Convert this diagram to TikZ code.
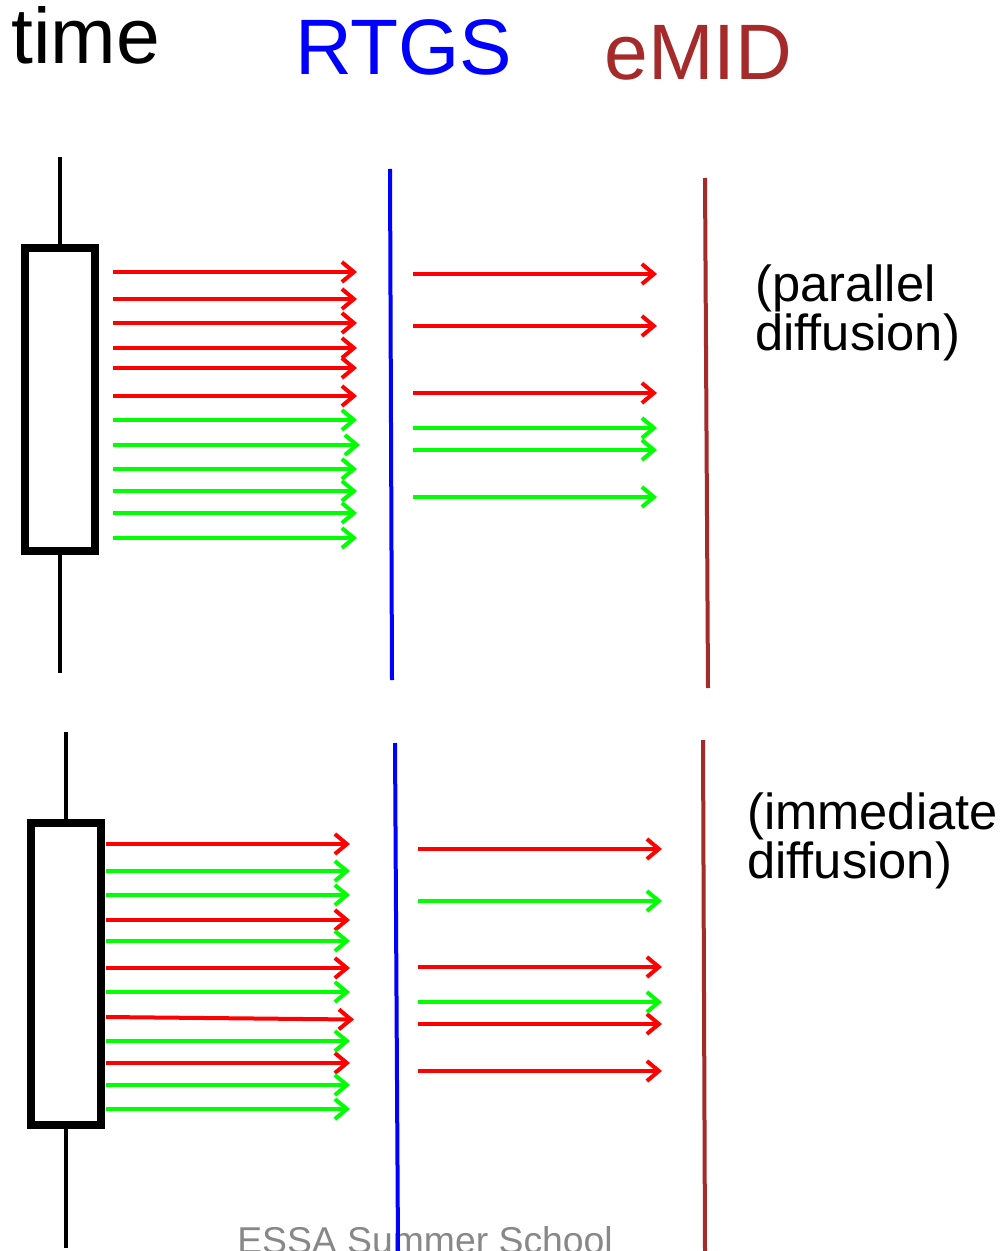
\documentclass[tikz,border=0pt]{standalone}
\usepackage{fontspec}
\setmainfont{Liberation Sans}
\usetikzlibrary{arrows.meta}
\definecolor{cred}{RGB}{255,0,0}
\definecolor{cgreen}{RGB}{0,255,0}
\definecolor{cblue}{RGB}{0,0,255}
\definecolor{cbrown}{RGB}{165,42,42}
\definecolor{cgray}{RGB}{136,136,136}
\tikzset{
  flow/.style={line width=3pt, -{Straight Barb[length=9pt,width=15pt]}},
  redflow/.style={flow, draw=cred},
  greenflow/.style={flow, draw=cgreen},
  stem/.style={line width=3pt, black},
  candle/.style={line width=6.3pt, draw=black, fill=white},
  rtgsline/.style={line width=3pt, draw=cblue},
  emidline/.style={line width=3pt, draw=cbrown},
  title/.style={anchor=base west, inner sep=0pt, font=\fontsize{59}{62}\selectfont},
  label/.style={anchor=base west, inner sep=0pt, align=left, font=\fontsize{38}{33.5}\selectfont},
}
\begin{document}
\begin{tikzpicture}[x=0.75pt,y=-0.75pt]
\useasboundingbox (0,0) rectangle (1000,1251);
\clip (0,0) rectangle (1000,1251);
\fill[white] (0,0) rectangle (1000,1251);

% footer (behind everything)
\node[anchor=base west, inner sep=0pt, text=cgray, font=\fontsize{28}{30}\selectfont] (footer) at (237,1253) {ESSA Summer School};

% titles
\node[title, text=black] (time) at (11,64) {time};
\node[title, text=cblue] (rtgs) at (295,75) {RTGS};
\node[title, text=cbrown] (emid) at (604,80) {eMID};

% labels (base = baseline of the last line)
\node[label] (par) at (755,350) {(parallel\\diffusion)};
\node[label] (imm) at (747,878) {(immediate\\diffusion)};

% ---------- top panel ----------
\coordinate (s1t) at (60,157);
\coordinate (s1b) at (60,673);
\draw[stem] (s1t) -- (s1b);
\draw[candle] (25,248) rectangle (95,551);

\draw[rtgsline] (390,169) -- (392,680);
\draw[emidline] (705,178) -- (708,688);

\foreach \y in {272,299,323,348,368,396}
  \draw[redflow] (113,\y) -- (357,\y);
\foreach \y in {420,469,491,513,538}
  \draw[greenflow] (113,\y) -- (357,\y);
\draw[greenflow] (113,445) -- (360,445);

\foreach \y in {274,326,393}
  \draw[redflow] (413,\y) -- (657,\y);
\foreach \y in {428,450,497}
  \draw[greenflow] (413,\y) -- (657,\y);

% ---------- bottom panel ----------
\coordinate (s2t) at (65.7,732);
\coordinate (s2b) at (65.7,1248);
\draw[stem] (s2t) -- (s2b);
\draw[candle] (31,823) rectangle (101,1125);

\draw[rtgsline] (395,743) -- (398,1251);
\draw[emidline] (703,740) -- (705,1251);

\foreach \y in {844,920,968,1063}
  \draw[redflow] (106,\y) -- (350,\y);
\foreach \y in {871,895,941,992,1041,1085,1109}
  \draw[greenflow] (106,\y) -- (350,\y);
\draw[redflow] (106,1017) -- (354,1019.5);

\foreach \y in {849,967,1024,1071}
  \draw[redflow] (418,\y) -- (662,\y);
\foreach \y in {901,1002}
  \draw[greenflow] (418,\y) -- (662,\y);
\end{tikzpicture}
\end{document}
